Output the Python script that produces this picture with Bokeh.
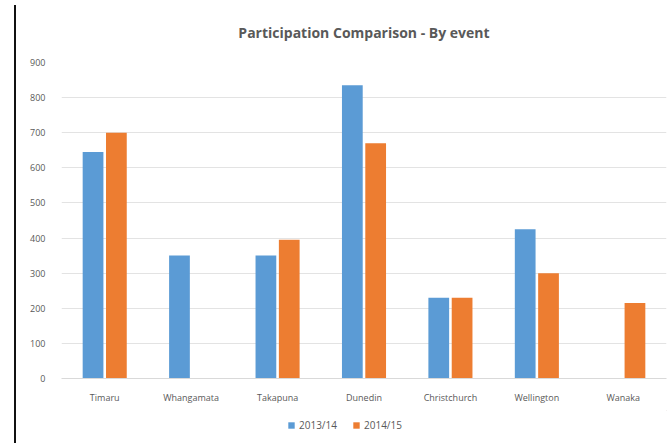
from bokeh.plotting import figure
from bokeh.models import ColumnDataSource, FactorRange, Range1d, Legend, LegendItem, SingleIntervalTicker, Div
from bokeh.layouts import row, column
from bokeh.transform import dodge
from bokeh.embed import file_html
from bokeh.resources import INLINE

events = ["Timaru", "Whangamata", "Takapuna", "Dunedin", "Christchurch", "Wellington", "Wanaka"]
season_1 = [645, 350, 350, 835, 230, 425, 0]
season_2 = [700, 0, 395, 670, 230, 300, 215]
series_names = ["2013/14", "2014/15"]
series_colors = ["#5B9BD5", "#ED7D31"]

src = ColumnDataSource(dict(event=events, s1=season_1, s2=season_2))

p = figure(x_range=FactorRange(*events), y_range=Range1d(0, 900),
           width=648, height=410, output_backend="svg", toolbar_location=None,
           min_border_left=40, min_border_right=3, min_border_top=62, min_border_bottom=32)

p.vbar(x=dodge("event", -0.135, range=p.x_range), top="s1", width=0.24, source=src,
       fill_color=series_colors[0], line_color=None)
p.vbar(x=dodge("event", 0.135, range=p.x_range), top="s2", width=0.24, source=src,
       fill_color=series_colors[1], line_color=None)

p.title.text = "Participation Comparison - By event"
p.title.align = "center"
p.title.text_font = "Open Sans"
p.title.text_font_size = "14px"
p.title.text_font_style = "bold"
p.title.text_color = "#595959"
p.title.standoff = 41

p.outline_line_color = None
p.xgrid.grid_line_color = None
p.ygrid.grid_line_color = "#E3E3E3"
p.yaxis.ticker = SingleIntervalTicker(interval=100)
p.yaxis.axis_line_color = None
p.yaxis.major_tick_line_color = None
p.yaxis.minor_tick_line_color = None
p.yaxis.major_label_standoff = 10
p.xaxis.axis_line_color = "#D9D9D9"
p.xaxis.major_tick_line_color = None
p.xaxis.major_label_standoff = 6
for ax in (p.xaxis, p.yaxis):
    ax.major_label_text_font = "Open Sans"
    ax.major_label_text_font_size = "9px"
    ax.major_label_text_color = "#595959"

# legend strip below the chart (dummy glyphs sit outside its visible range)
lf = figure(width=648, height=28, x_range=Range1d(0, 1), y_range=Range1d(0, 1),
            output_backend="svg", toolbar_location=None,
            min_border=0, outline_line_color=None)
lf.axis.visible = False
lf.grid.visible = False
dummy = ColumnDataSource(dict(x=[5.0], top=[5.0]))
d1 = lf.vbar(x="x", top="top", bottom=4.0, width=0.1, source=dummy, fill_color=series_colors[0], line_color=None)
d2 = lf.vbar(x="x", top="top", bottom=4.0, width=0.1, source=dummy, fill_color=series_colors[1], line_color=None)
legend = Legend(items=[LegendItem(label=series_names[0], renderers=[d1]),
                       LegendItem(label=series_names[1], renderers=[d2])],
                orientation="horizontal", location=(226, 6),
                label_text_font="Open Sans", label_text_font_size="10px",
                label_text_color="#595959", glyph_width=8, glyph_height=8,
                label_standoff=4, spacing=15, border_line_color=None,
                background_fill_alpha=0, padding=2, margin=0)
lf.add_layout(legend, "center")

bar = Div(width=11, height=438, styles={"border-right": "2px solid #111111", "box-sizing": "border-box"})
layout = row(bar, column(p, lf, spacing=0), spacing=0)

open("out.html", "w").write(file_html(layout, INLINE))
